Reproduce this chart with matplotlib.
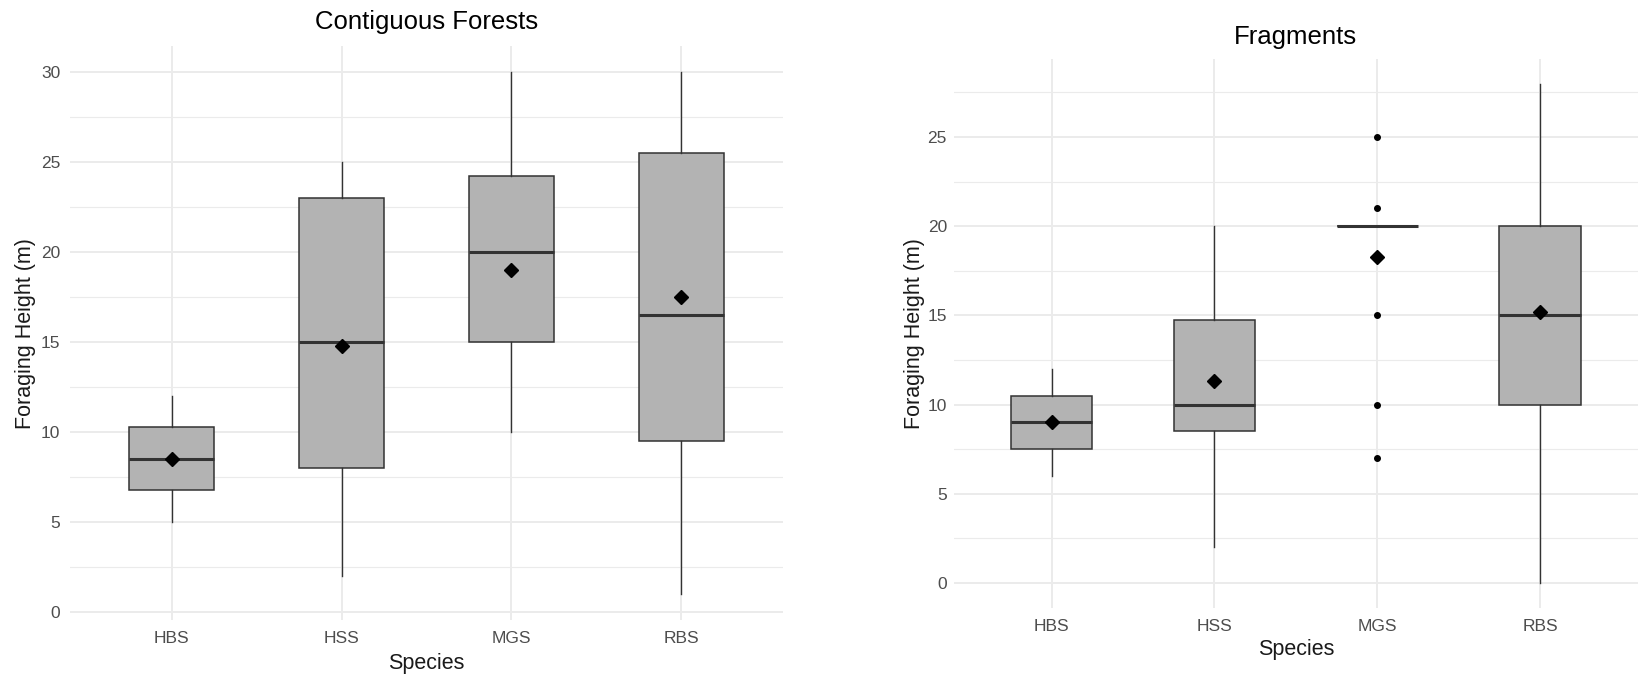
import numpy as np
import matplotlib
matplotlib.use("Agg")
import matplotlib.pyplot as plt
from matplotlib.ticker import MultipleLocator

plt.rcParams["font.family"] = ["Liberation Sans", "DejaVu Sans"]

species = ["HBS", "HSS", "MGS", "RBS"]

# Contiguous forests: box stats
cont_whislo = [5, 2, 10, 1]
cont_q1 = [6.75, 8, 15, 9.5]
cont_med = [8.5, 15, 20, 16.5]
cont_q3 = [10.3, 23, 24.25, 25.5]
cont_whishi = [12, 25, 30, 30]
cont_mean = [8.5, 14.8, 19, 17.5]
cont_fliers = [[], [], [], []]

# Fragments
frag_whislo = [6, 2, 20, 0]
frag_q1 = [7.5, 8.5, 20, 10]
frag_med = [9, 10, 20, 15]
frag_q3 = [10.5, 14.75, 20, 20]
frag_whishi = [12, 20, 20, 28]
frag_mean = [9, 11.3, 18.3, 15.2]
frag_fliers = [[], [], [25, 21, 15, 10, 7], []]

BOX_FILL = "#b3b3b3"
EDGE = "#333333"
GRID = "#ebebeb"
TICK = "#4d4d4d"


def draw_panel(ax, title, whislo, q1, med, q3, whishi, mean, fliers,
               title_y, xlab_y, ylab_x, ypad):
    stats = []
    for i, name in enumerate(species):
        stats.append({"label": name, "whislo": whislo[i], "q1": q1[i],
                      "med": med[i], "q3": q3[i], "whishi": whishi[i],
                      "fliers": fliers[i]})
    pos = np.arange(1, len(species) + 1)
    ax.bxp(stats, positions=pos, widths=0.5, patch_artist=True, showcaps=False,
           boxprops=dict(facecolor=BOX_FILL, edgecolor=EDGE, linewidth=1.1),
           medianprops=dict(color=EDGE, linewidth=2.2),
           whiskerprops=dict(color=EDGE, linewidth=1.0),
           flierprops=dict(marker="o", markerfacecolor="black",
                           markeredgecolor="black", markersize=4),
           zorder=3)
    ax.plot(pos, mean, linestyle="none", marker="D", color="black",
            markersize=7, zorder=5)

    lo = min(min(whislo), min([min(f) for f in fliers if f] or [np.inf]))
    hi = max(max(whishi), max([max(f) for f in fliers if f] or [-np.inf]))
    span = hi - lo
    ax.set_ylim(lo - 0.05 * span, hi + 0.05 * span)
    ax.set_xlim(0.4, len(species) + 0.6)

    ax.set_xticks(pos)
    ax.set_xticklabels(species)
    ax.yaxis.set_major_locator(MultipleLocator(5))
    ax.yaxis.set_minor_locator(MultipleLocator(2.5))
    ax.grid(which="major", axis="both", color=GRID, linewidth=1.4, zorder=0)
    ax.grid(which="minor", axis="y", color=GRID, linewidth=0.8, zorder=0)
    ax.set_axisbelow(True)
    for s in ax.spines.values():
        s.set_visible(False)
    ax.tick_params(which="both", length=0, labelsize=12.5, labelcolor=TICK)
    ax.tick_params(axis="x", pad=8)
    ax.tick_params(axis="y", pad=ypad)

    ax.text(0.5, title_y, title, transform=ax.transAxes, ha="center",
            va="center", fontsize=18.5, color="black")
    ax.set_xlabel("Species", fontsize=15.5, color="#1a1a1a", va="center")
    ax.xaxis.set_label_coords(0.5, xlab_y)
    ax.set_ylabel("Foraging Height (m)", fontsize=15.5, color="#1a1a1a",
                  va="center")
    ax.yaxis.set_label_coords(ylab_x, 0.5)


fig = plt.figure(figsize=(16.39, 6.8), dpi=100)
ax1 = fig.add_axes([0.0427, 0.0882, 0.435, 0.844])
ax2 = fig.add_axes([0.582, 0.1059, 0.4173, 0.808])

draw_panel(ax1, "Contiguous Forests", cont_whislo, cont_q1, cont_med, cont_q3,
           cont_whishi, cont_mean, cont_fliers,
           title_y=1.042, xlab_y=-0.075, ylab_x=-0.062, ypad=7)
draw_panel(ax2, "Fragments", frag_whislo, frag_q1, frag_med, frag_q3,
           frag_whishi, frag_mean, frag_fliers,
           title_y=1.039, xlab_y=-0.075, ylab_x=-0.057, ypad=5)

fig.savefig("out.png", dpi=100, facecolor="white")
